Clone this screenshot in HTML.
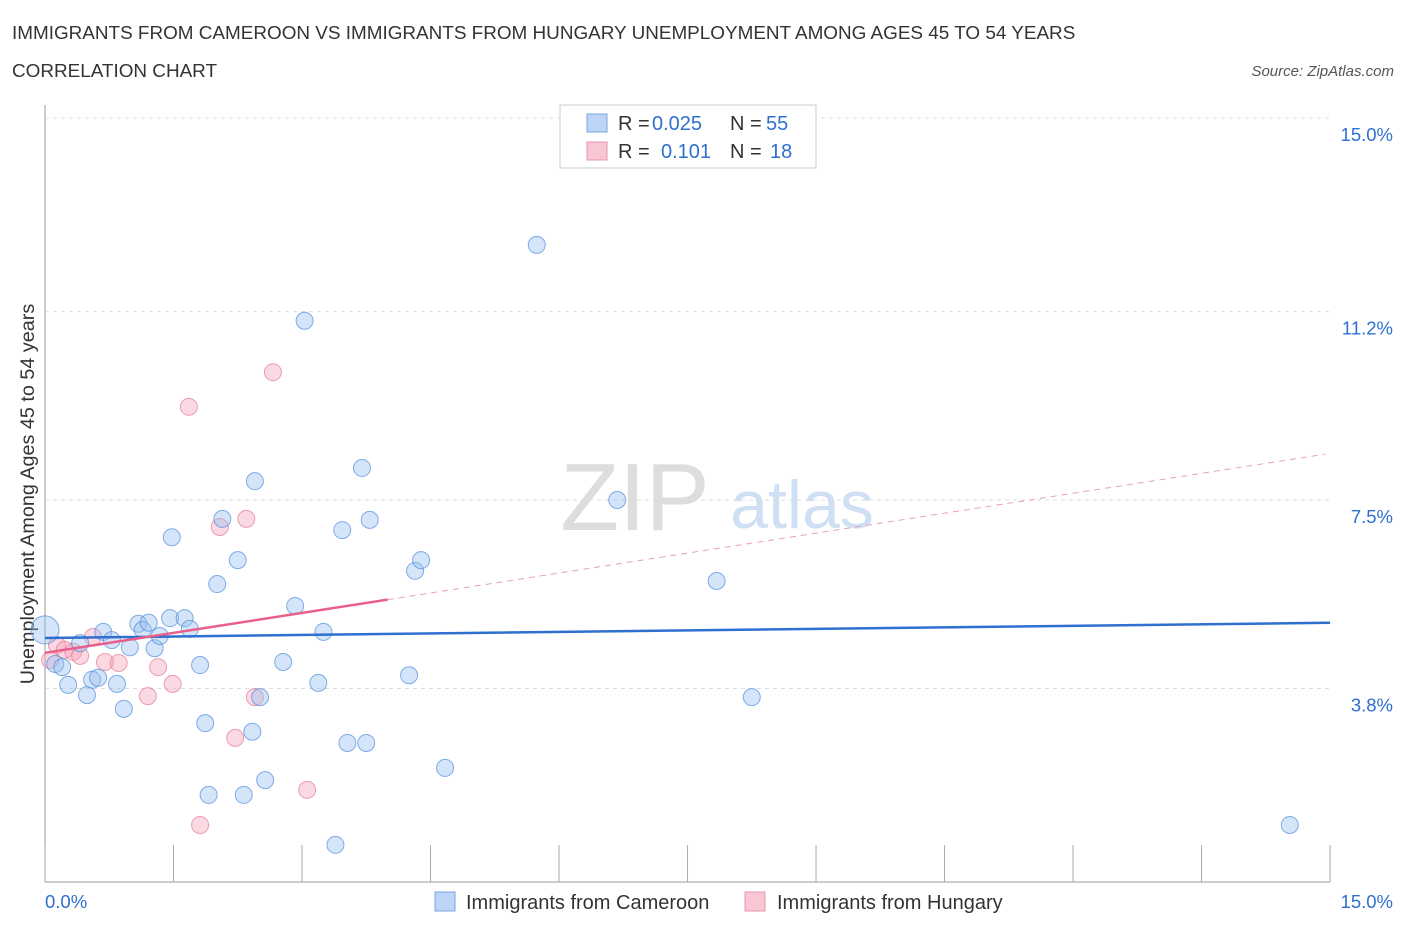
<!DOCTYPE html>
<html><head><meta charset="utf-8"><style>
body{margin:0;background:#fff;font-family:"Liberation Sans",sans-serif;}
svg text{font-family:"Liberation Sans",sans-serif;}
</style></head><body>
<svg id="c" width="1406" height="930">
<text x="12" y="39" font-size="18.9" fill="#333">IMMIGRANTS FROM CAMEROON VS IMMIGRANTS FROM HUNGARY UNEMPLOYMENT AMONG AGES 45 TO 54 YEARS</text>
<text x="12" y="77" font-size="18.9" fill="#333">CORRELATION CHART</text>
<text x="1394" y="76" font-size="15" fill="#555" font-style="italic" text-anchor="end">Source: ZipAtlas.com</text>
<text x="635" y="530" font-size="96" fill="#ddd" font-family="Liberation Serif" text-anchor="middle">ZIP</text>
<text x="802" y="528" font-size="68" fill="#cfe0f5" text-anchor="middle">atlas</text>
<text transform="translate(34,494) rotate(-90)" font-size="19.8" fill="#333" text-anchor="middle">Unemployment Among Ages 45 to 54 years</text>
<g id="grid"></g><g id="marks"></g>
<g>
<rect x="560" y="105" width="256" height="63" fill="#fff" stroke="#ccc"/>
<rect x="587" y="114" width="20" height="18" fill="#bcd4f5" stroke="#7aa6e0"/>
<rect x="587" y="142" width="20" height="18" fill="#f9c6d4" stroke="#e896ad"/>
<text x="618" y="130" font-size="20" fill="#333">R = <tspan x="652" fill="#2f6fd0">0.025</tspan><tspan x="730">N = </tspan><tspan x="766" fill="#2f6fd0">55</tspan></text>
<text x="618" y="158" font-size="20" fill="#333">R = <tspan x="661" fill="#2f6fd0">0.101</tspan><tspan x="730">N = </tspan><tspan x="770" fill="#2f6fd0">18</tspan></text>
</g>
<g>
<rect x="435" y="892" width="20" height="19" fill="#bcd4f5" stroke="#7aa6e0"/>
<text x="466" y="909" font-size="20" fill="#333">Immigrants from Cameroon</text>
<rect x="745" y="892" width="20" height="19" fill="#f9c6d4" stroke="#e896ad"/>
<text x="777" y="909" font-size="20" fill="#333">Immigrants from Hungary</text>
</g>
</svg>
<script>
const yTicks=[3.8,7.5,11.2,15.0];
const yTickLabels=["3.8%","7.5%","11.2%","15.0%"];
const xTicks=[0,1.5,3,4.5,6,7.5,9,10.5,12,13.5,15];
const camX=[0.00,0.12,0.20,0.27,0.41,0.49,0.55,0.62,0.68,0.78,0.84,0.92,0.99,1.09,1.14,1.21,1.28,1.34,1.46,1.48,1.63,1.69,1.81,1.87,1.91,2.01,2.07,2.25,2.32,2.42,2.45,2.51,2.57,2.78,2.92,3.03,3.19,3.25,3.39,3.47,3.53,3.70,3.75,3.79,4.25,4.32,4.39,4.67,5.74,6.68,7.84,8.25,14.53];
const camY=[4.95,4.28,4.22,3.87,4.69,3.67,3.97,4.01,4.91,4.75,3.89,3.40,4.61,5.07,4.95,5.09,4.59,4.83,5.18,6.77,5.18,4.97,4.26,3.12,1.71,5.85,7.13,6.32,1.71,2.95,7.87,3.63,2.00,4.32,5.42,11.02,3.91,4.91,0.73,6.91,2.73,8.13,2.73,7.11,4.06,6.11,6.32,2.24,12.51,7.50,5.91,3.63,1.12];
const hunX=[0.06,0.14,0.23,0.33,0.41,0.56,0.70,0.86,1.20,1.32,1.49,1.68,1.81,2.04,2.22,2.35,2.45,2.66,3.06];
const hunY=[4.36,4.65,4.56,4.52,4.44,4.81,4.32,4.30,3.65,4.22,3.89,9.33,1.12,6.97,2.83,7.13,3.63,10.01,1.81];
const camTrend=[4.79,5.09];
const hunTrend=[4.50,8.40];
const hunSolidEnd=4.0, hunDashEnd=14.94;
const X=v=>45+v*85.67, Y=v=>882-v*50.93;
const NS="http://www.w3.org/2000/svg";
function mk(p,t,a){const e=document.createElementNS(NS,t);for(const k in a)e.setAttribute(k,a[k]);p.appendChild(e);return e;}
const g=document.getElementById('grid'), m=document.getElementById('marks');
let ax=mk(g,'line',{x1:45,y1:105,x2:45,y2:882,stroke:'#999'});


let bx=mk(g,'line',{x1:45,y1:882,x2:1330,y2:882,stroke:'#999'});


yTicks.forEach((v,i)=>{
 let l=mk(g,'line',{x1:45,x2:1330,y1:Y(v),y2:Y(v),stroke:'#ddd','stroke-dasharray':'4,4'});
 
 
 let t=mk(g,'text',{x:1393,y:Y(v)+23,'font-size':18.5,fill:'#2f6fd0','text-anchor':'end'});t.textContent=yTickLabels[i];
 
 
});
xTicks.forEach(v=>{
 let l=mk(g,'line',{x1:X(v),x2:X(v),y1:845,y2:882,stroke:'#aaa'});
 
 
});
let t0=mk(g,'text',{x:45,y:908,'font-size':18.5,fill:'#2f6fd0'});t0.textContent="0.0%";


let t1=mk(g,'text',{x:1393,y:908,'font-size':18.5,fill:'#2f6fd0','text-anchor':'end'});t1.textContent="15.0%";


hunX.forEach((v,i)=>{
 let c=mk(m,'circle',{cx:X(v),cy:Y(hunY[i]),r:8.5,fill:'rgba(244,160,185,0.4)',stroke:'rgba(230,120,150,0.7)'});
 
 
});
camX.forEach((v,i)=>{
 let c=mk(m,'circle',{cx:X(v),cy:Y(camY[i]),r:i==0?14:8.5,fill:'rgba(150,190,240,0.4)',stroke:'rgba(80,140,220,0.7)'});
 
 
});
let bl=mk(m,'line',{x1:X(0),y1:Y(camTrend[0]),x2:X(15),y2:Y(camTrend[1]),stroke:'#2f6fd0','stroke-width':2.5});


const hy=x=>hunTrend[0]+(hunTrend[1]-hunTrend[0])*x/hunDashEnd;
let pl=mk(m,'line',{x1:X(0),y1:Y(hy(0)),x2:X(hunSolidEnd),y2:Y(hy(hunSolidEnd)),stroke:'#e8608a','stroke-width':2.5});


let pd=mk(m,'line',{x1:X(hunSolidEnd),y1:Y(hy(hunSolidEnd)),x2:X(hunDashEnd),y2:Y(hy(hunDashEnd)),stroke:'#e8a0b8','stroke-width':1,'stroke-dasharray':'6,5'});


</script>
</body></html>
